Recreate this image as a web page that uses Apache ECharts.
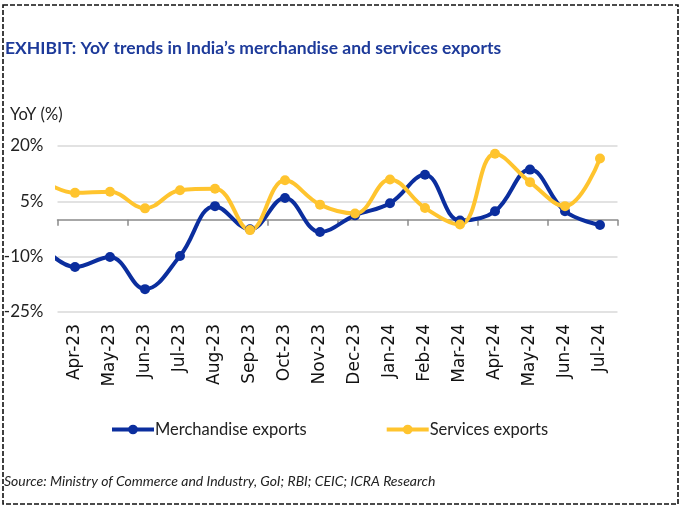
<!DOCTYPE html>
<html>
<head>
<meta charset="utf-8">
<script src="https://cdn.jsdelivr.net/npm/echarts@6/dist/echarts.min.js"></script>
<style>
  html, body { margin: 0; padding: 0; background: #fff; }
  #chart { width: 683px; height: 506px; }
</style>
</head>
<body>
<div id="chart"></div>
<script>
// month labels on the x axis
const months = ['Apr-23', 'May-23', 'Jun-23', 'Jul-23', 'Aug-23', 'Sep-23', 'Oct-23', 'Nov-23',
  'Dec-23', 'Jan-24', 'Feb-24', 'Mar-24', 'Apr-24', 'May-24', 'Jun-24', 'Jul-24']
// YoY growth, %
const merchandise = [-12.8, -10.1, -18.8, -9.8, 3.7, -2.6, 5.9, -3.3, 1.2, 4.5, 12.2, -0.2, 2.3, 13.6, 2.3, -1.4]
const services = [7.3, 7.6, 3.1, 8.0, 8.4, -2.8, 10.7, 4.1, 1.7, 10.9, 3.2, -1.3, 17.9, 10.2, 3.7, 16.6]
// Mar-23 values, only the stub at the left edge is visible
const merchandisePrior = -6.5
const servicesPrior = 11

const font = 'Lato'
const merchColor = '#0B2E9E'
const servColor = '#FFC42E'

// index -1 is Mar-23, clipped by the grid
function toPoints(prior, values) {
  return [[-1, prior]].concat(values.map((v, i) => [i, v]))
}

let chart = echarts.init(document.getElementById('chart'))
let option = {
  animation: false,
  title: {
    text: 'EXHIBIT: YoY trends in India\u2019s merchandise and services exports',
    left: 0,
    top: 34,
    textStyle: { fontFamily: font, fontSize: 17.5, fontWeight: 'bold', color: '#1D3A9A' }
  },
  graphic: [
    {
      type: 'rect', silent: true,
      shape: { x: 3, y: 5, width: 675, height: 499 },
      style: { fill: 'none', stroke: '#111', lineWidth: 1.6, lineDash: [5, 2] }
    },
    {
      type: 'text', left: 10, top: 106,
      style: { text: 'YoY (%)', fontFamily: font, fontSize: 16.5, fill: '#222' }
    },
    {
      type: 'text', left: 4, top: 474,
      style: { text: 'Source: Ministry of Commerce and Industry, GoI; RBI; CEIC; ICRA Research',
        fontFamily: font, fontSize: 14, fontStyle: 'italic', fill: '#222' }
    }
  ],
  legend: {
    left: 105,
    top: 416,
    itemWidth: 42,
    itemHeight: 12,
    itemGap: 78,
    lineStyle: { width: 4 },
    textStyle: { fontFamily: font, fontSize: 16.5, color: '#222', padding: [0, 0, 0, -4] },
    data: ['Merchandise exports', 'Services exports']
  },
  grid: { left: 57.5, right: 65.5, top: 146, bottom: 194 },
  xAxis: [
    {
      // zero line with ticks between months
      type: 'category',
      data: months,
      boundaryGap: true,
      axisLine: { onZero: true, lineStyle: { color: '#8a8a8a', width: 1.5 } },
      axisTick: { show: true, length: 6, lineStyle: { color: '#8a8a8a', width: 1.5 } },
      axisLabel: { show: false }
    },
    {
      // month labels at the bottom
      type: 'category',
      data: months,
      position: 'bottom',
      axisLine: { show: false, onZero: false },
      axisTick: { show: false },
      axisLabel: { rotate: 90, margin: 12, fontFamily: 'DejaVu Sans', fontSize: 17, color: '#111', interval: 0 }
    },
    {
      type: 'value',
      show: false,
      min: -0.5,
      max: 15.5
    }
  ],
  yAxis: {
    type: 'value',
    min: -25,
    max: 20,
    interval: 15,
    axisLine: { show: false },
    axisTick: { show: false },
    axisLabel: { margin: 14, fontFamily: font, fontSize: 17, color: '#222', formatter: '{value}%' },
    splitLine: { lineStyle: { color: '#d9d9d9', width: 1.5 } }
  },
  series: [
    {
      name: 'Merchandise exports',
      type: 'line',
      xAxisIndex: 2,
      data: toPoints(merchandisePrior, merchandise),
      smooth: 0.4,
      symbol: 'circle',
      symbolSize: 10,
      clip: true,
      lineStyle: { width: 4, color: merchColor },
      itemStyle: { color: merchColor }
    },
    {
      name: 'Services exports',
      type: 'line',
      xAxisIndex: 2,
      data: toPoints(servicesPrior, services),
      smooth: 0.4,
      symbol: 'circle',
      symbolSize: 10,
      clip: true,
      lineStyle: { width: 4, color: servColor },
      itemStyle: { color: servColor }
    }
  ]
}
chart.setOption(option)
</script>
</body>
</html>
